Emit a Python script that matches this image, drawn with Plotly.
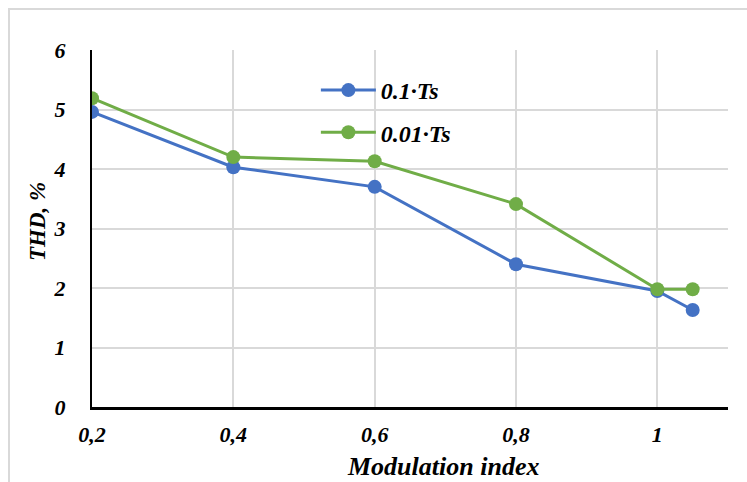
import plotly.graph_objects as go

x_vals = [0.2, 0.4, 0.6, 0.8, 1.0, 1.05]
thd_01 = [4.96, 4.03, 3.70, 2.40, 1.95, 1.63]
thd_001 = [5.19, 4.20, 4.13, 3.41, 1.98, 1.98]
x_ticks = [0.2, 0.4, 0.6, 0.8, 1.0]
x_tick_labels = ["0,2", "0,4", "0,6", "0,8", "1"]
y_ticks = [0, 1, 2, 3, 4, 5, 6]

FONT = "Liberation Serif"

fig = go.Figure()
fig.add_trace(go.Scatter(x=x_vals, y=thd_01, mode="lines+markers", name="<b><i>0.1·Ts</i></b>",
                         legendgroup="a",
                         line=dict(color="#4472C4", width=3), marker=dict(size=14, color="#4472C4")))
fig.add_trace(go.Scatter(x=x_vals, y=thd_001, mode="lines+markers", name="<b><i>0.01·Ts</i></b>",
                         legendgroup="b",
                         line=dict(color="#70AD47", width=3), marker=dict(size=14, color="#70AD47")))

fig.update_layout(
    width=747, height=482,
    margin=dict(l=92, r=19, t=50, b=75, autoexpand=False),
    plot_bgcolor="white", paper_bgcolor="white",
    separators=",.",
    font=dict(family=FONT, size=22, color="black"),
    showlegend=True,
    legend=dict(x=0.352, y=0.9496, xanchor="left", yanchor="top", bgcolor="rgba(0,0,0,0)",
                font=dict(family=FONT, size=24), traceorder="grouped", tracegroupgap=8,
                itemwidth=55),
    xaxis=dict(range=[0.2, 1.1], tickvals=x_ticks, ticktext=[f"<b><i>{t}</i></b>" for t in x_tick_labels],
               showgrid=True, gridcolor="#D9D9D9", gridwidth=2, zeroline=False,
               showline=True, linecolor="black", linewidth=3, ticks="", ticklabelstandoff=6,
               automargin=False),
    yaxis=dict(range=[0, 6], tickvals=y_ticks, ticktext=[f"<b><i>{t}</i></b>" for t in y_ticks],
               showgrid=True, gridcolor="#D9D9D9", gridwidth=2, zeroline=False,
               showline=True, linecolor="black", linewidth=2, ticks="", ticklabelstandoff=20,
               automargin=False),
    annotations=[
        dict(text="<b><i>Modulation index</i></b>", xref="paper", yref="paper",
             x=(443 - 92) / 636, y=(407 - 466) / 357, xanchor="center", yanchor="middle",
             showarrow=False, font=dict(family=FONT, size=26)),
        dict(text="<b><i>THD, %</i></b>", xref="paper", yref="paper",
             x=(38 - 92) / 636, y=(407 - 222) / 357, xanchor="center", yanchor="middle",
             textangle=-90, showarrow=False, font=dict(family=FONT, size=23)),
    ],
    shapes=[dict(type="rect", xref="paper", yref="paper", x0=-0.1305, x1=1.2, y0=-0.4, y1=1.1148,
                 line=dict(color="#D9D9D9", width=2), fillcolor="rgba(0,0,0,0)", layer="below")],
)

fig.write_html("out.html", config={"displayModeBar": False},
               post_script="document.body.style.margin='0';document.body.style.overflow='hidden';")
